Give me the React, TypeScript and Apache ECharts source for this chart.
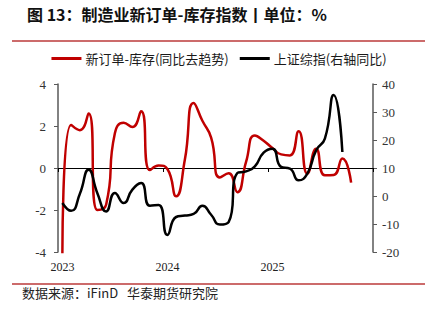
import React, { useEffect, useRef } from "react";
import * as echarts from "echarts";

const categories = [
  "2023-01","2023-02","2023-03","2023-04","2023-05","2023-06","2023-07","2023-08","2023-09","2023-10","2023-11","2023-12",
  "2024-01","2024-02","2024-03","2024-04","2024-05","2024-06","2024-07","2024-08","2024-09","2024-10","2024-11","2024-12",
  "2025-01","2025-02","2025-03","2025-04","2025-05","2025-06","2025-07","2025-08","2025-09","2025-10","2025-11","2025-12",
];

const orderInventory = [
  -4.2, 2.05, 1.8, 2.6, -2.0, -1.75, 1.65, 2.15, 1.95, 2.7, -0.1, 0.12,
  -0.05, -1.35, 0.4, 3.1, 2.25, 1.45, -0.45, -0.25, -1.15, 0.3, 1.55, 1.3,
  0.95, 0.65, 0.6, 1.75, -0.27, 0.92, -0.35, -0.33, 0.45, -0.7,
];

const shIndexYoY = [
  -2.5, -5.3, 0.8, 9.4, 1.0, -5.5, 1.1, -2.5, 2.3, 4.6, -3.5, -3.2,
  -13.9, -7.5, -7.0, -6.4, -3.5, -6.7, -10.2, -9.3, 8.2, 8.8, 10.6, 15.5,
  16.9, 10.4, 9.8, 5.6, 8.0, 16.3, 20.5, 36.1, 15.7,
];

const leftTicks = { min: -4, max: 4, interval: 2 };
const rightTicks = { min: -20, max: 40, interval: 10 };

const seriesNames = ["新订单-库存(同比去趋势)", "上证综指(右轴同比)"];
const titleText = "图 13：制造业新订单-库存指数丨单位：%";
const footerText = "数据来源：iFinD   华泰期货研究院";

const CJK = "'Noto Sans CJK SC', 'Noto Sans', sans-serif";
const SERIF = "'Liberation Serif', 'DejaVu Serif', serif";

export default function App() {
  const ref = useRef<HTMLDivElement>(null);
  useEffect(() => {
    document.body.style.margin = "0";
    const chart = echarts.init(ref.current!, undefined, { renderer: "svg" });
    chart.setOption({
      animation: false,
      backgroundColor: "#ffffff",
      grid: { left: 58, right: 65, top: 84, bottom: 70 },
      legend: {
        top: 47,
        left: "center",
        icon: "rect",
        itemWidth: 30,
        itemHeight: 3,
        itemGap: 11,
        textStyle: { fontFamily: CJK, fontSize: 13, color: "#1a1a1a", padding: [0, 0, 0, -1] },
        data: seriesNames,
      },
      xAxis: [
        {
          type: "category",
          data: categories,
          boundaryGap: true,
          axisLine: { onZero: true, lineStyle: { color: "#000", width: 1 } },
          axisTick: { show: true, length: 4, interval: (i: number) => i % 12 === 0, lineStyle: { color: "#000" } },
          axisLabel: { show: false },
          splitLine: { show: false },
        },
        {
          type: "category",
          data: categories,
          boundaryGap: true,
          position: "bottom",
          axisLine: { show: false, onZero: false },
          axisTick: { show: false },
          axisLabel: {
            show: true,
            interval: (i: number) => i % 12 === 0,
            formatter: (v: string) => v.slice(0, 4),
            fontFamily: SERIF,
            fontSize: 12,
            color: "#222",
            margin: 9,
          },
          splitLine: { show: false },
        },
      ],
      yAxis: [
        {
          type: "value",
          ...leftTicks,
          axisLine: { show: true, lineStyle: { color: "#595959", width: 1.5 } },
          axisTick: { show: true, length: 4, lineStyle: { color: "#595959" } },
          axisLabel: { fontFamily: SERIF, fontSize: 13, color: "#333", margin: 12 },
          splitLine: { show: false },
        },
        {
          type: "value",
          ...rightTicks,
          position: "right",
          axisLine: { show: true, lineStyle: { color: "#595959", width: 1.5 } },
          axisTick: { show: true, length: 4, lineStyle: { color: "#595959" } },
          axisLabel: { fontFamily: SERIF, fontSize: 13, color: "#333", margin: 9 },
          splitLine: { show: false },
        },
      ],
      series: [
        {
          name: seriesNames[0],
          type: "line",
          data: orderInventory,
          xAxisIndex: 0,
          yAxisIndex: 0,
          smooth: 0.55,
          showSymbol: false,
          symbol: "none",
          itemStyle: { color: "#c00000" },
          lineStyle: { color: "#c00000", width: 2.5 },
          z: 3,
        },
        {
          name: seriesNames[1],
          type: "line",
          data: shIndexYoY,
          xAxisIndex: 0,
          yAxisIndex: 1,
          smooth: 0.55,
          showSymbol: false,
          symbol: "none",
          itemStyle: { color: "#000000" },
          lineStyle: { color: "#000000", width: 2.5 },
          z: 4,
        },
      ],
      graphic: [
        {
          type: "text",
          left: 27,
          top: 6,
          style: { text: titleText, font: `bold 16px ${CJK}`, fill: "#111" },
        },
        {
          type: "line",
          shape: { x1: 12, y1: 41, x2: 425, y2: 41 },
          style: { stroke: "#cc6b6b", lineWidth: 2 },
        },
        {
          type: "line",
          shape: { x1: 12, y1: 284, x2: 425, y2: 284 },
          style: { stroke: "#cc6b6b", lineWidth: 2 },
        },
        {
          type: "text",
          left: 22,
          top: 286,
          style: { text: footerText, font: `13px ${CJK}`, fill: "#222" },
        },
      ],
    });
    return () => chart.dispose();
  }, []);
  return <div ref={ref} style={{ position: "fixed", left: 0, top: 0, width: 438, height: 322 }} />;
}
